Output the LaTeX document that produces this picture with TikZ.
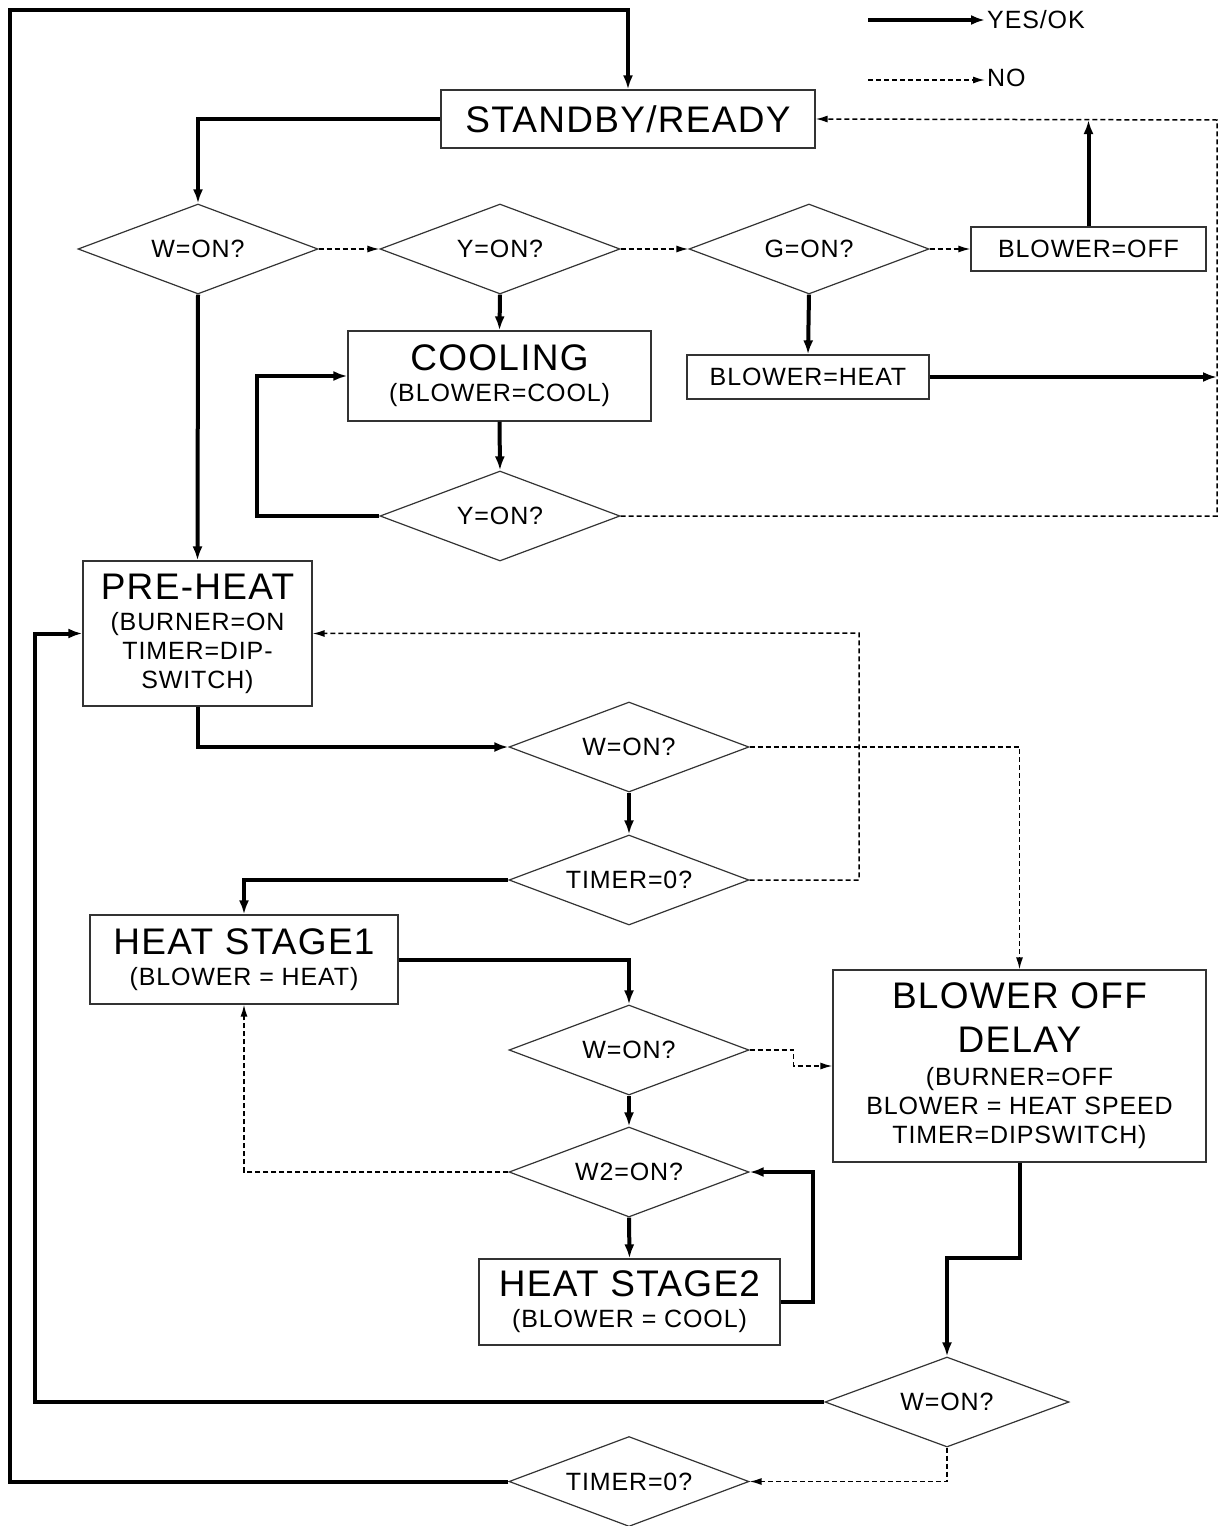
\documentclass[tikz,border=0pt]{standalone}
\usepackage{fontspec}
\setmainfont{Liberation Sans}[LetterSpace=3.5]
\usetikzlibrary{shapes.geometric,arrows.meta}
\newcommand\hdfont{\fontsize{37}{40}\selectfont}
\newcommand\smfont{\fontsize{25}{29}\selectfont}

\begin{document}
\begin{tikzpicture}[x=1pt,y=-1pt]
	\useasboundingbox (0,0) rectangle (1219,1526);
	\tikzstyle{every node}=[font=\smfont];
	\tikzstyle{state}=[draw=black!80,line width=1.2pt,shape=rectangle,inner sep=0pt,align=center];
	\tikzstyle{test}=[draw=black!80,line width=1.2pt,shape=diamond,aspect=2.667,inner sep=0pt,minimum width=240pt,minimum height=90pt];
	\tikzstyle{yes}=[line width=4pt,-{Latex[length=14pt,width=10pt]}];
	\tikzstyle{no}=[line width=1.5pt,dash pattern=on 5pt off 3pt,-{Latex[length=12pt,width=7pt]}];

	% legend
	\node[anchor=west,inner sep=2pt] (lyes) at (985,20) {YES/OK};
	\node[anchor=west,inner sep=2pt] (lno)  at (985,78) {NO};
	\coordinate (lys) at (868,20);
	\coordinate (lns) at (868,80);
	\path[yes,draw] (lys) -- (lyes.west);
	\path[no,draw]  (lns) -- (lno.west |- lns);

	% states
	\node[state,minimum width=374pt,minimum height=58pt] (sb) at (628,119) {\hdfont STANDBY/READY};
	\node[state,minimum width=235pt,minimum height=44pt] (boff) at (1088.5,249) {BLOWER=OFF};
	\node[state,minimum width=242pt,minimum height=44pt] (bheat) at (808,377) {BLOWER=HEAT};
	\node[state,minimum width=303pt,minimum height=90pt] (cool) at (499.5,376) {\hdfont COOLING\\[2pt]\smfont (BLOWER=COOL)};
	\node[state,minimum width=229pt,minimum height=145pt] (pre) at (197.5,633.5) {\hdfont PRE-HEAT\\[2pt]\smfont (BURNER=ON\\TIMER=DIP-\\SWITCH)};
	\node[state,minimum width=308pt,minimum height=89pt] (hs1) at (244,959.5) {\hdfont HEAT STAGE1\\[2pt]\smfont (BLOWER = HEAT)};
	\node[state,minimum width=301pt,minimum height=86pt] (hs2) at (629.5,1302) {\hdfont HEAT STAGE2\\[2pt]\smfont (BLOWER = COOL)};
	\node[state,minimum width=373pt,minimum height=192pt] (bod) at (1019.5,1066) {\hdfont BLOWER OFF\\[15pt]\hdfont DELAY\\[4pt]\smfont (BURNER=OFF\\BLOWER = HEAT SPEED\\TIMER=DIPSWITCH)};

	% tests
	\node[test] (w1) at (198,249) {W=ON?};
	\node[test] (y1) at (500,249) {Y=ON?};
	\node[test] (g1) at (809,249) {G=ON?};
	\node[test] (y2) at (500,516) {Y=ON?};
	\node[test] (w3) at (629,747) {W=ON?};
	\node[test] (t1) at (629,880) {TIMER=0?};
	\node[test] (w4) at (629,1050) {W=ON?};
	\node[test] (w2) at (629,1172) {W2=ON?};
	\node[test,minimum width=244pt] (w5) at (947,1402) {W=ON?};
	\node[test] (t2) at (629,1481.5) {TIMER=0?};

	% corner points
	\coordinate (rr) at (1217,120);
	\coordinate (cl) at (257,376);
	\coordinate (tr) at (859,633);
	\coordinate (ll) at (35,1402);
	\coordinate (bl) at (10,1481.5);
	\coordinate (tl) at (10,10);

	% yes / ok
	\path[yes,draw] (sb.west) -| (w1.north);
	\path[yes,draw] (boff.north) -- (boff.north |- rr);
	\path[yes,draw] (bheat.east) -- (bheat.east -| rr);
	\path[yes,draw] (y1.south) -- (cool.north);
	\path[yes,draw] (cool.south) -- (y2.north);
	\path[yes,draw] (y2.west) -| (cl) -- (cool.west);
	\path[yes,draw] (g1.south) -- (bheat.north);
	\path[yes,draw] (w1.south) -- (pre.north);
	\path[yes,draw] (pre.south) |- (w3.west);
	\path[yes,draw] (w3.south) -- (t1.north);
	\path[yes,draw] (t1.west) -| (hs1.north);
	\path[yes,draw] (hs1.east) -| (w4.north);
	\path[yes,draw] (w4.south) -- (w2.north);
	\path[yes,draw] (w2.south) -- (hs2.north);
	\path[yes,draw] (hs2.east) -- ++(32,0) |- (w2.east);
	\path[yes,draw] (bod.south) -- ++(0,95) -| (w5.north);
	\path[yes,draw] (w5.west) -- (ll) |- (pre.west);
	\path[yes,draw] (t2.west) -- (bl) -- (tl) -| (sb.north);

	% no
	\path[no,draw] (w1.east) -- (y1.west);
	\path[no,draw] (y1.east) -- (g1.west);
	\path[no,draw] (g1.east) -- (boff.west);
	\path[no,draw] (y2.east) -| (rr) -- (sb.east);
	\path[no,draw] (w3.east) -| (bod.north);
	\path[no,draw] (t1.east) -| (tr) -- (pre.east);
	\path[no,draw] (w4.east) -- ++(44,0) |- (bod.west);
	\path[no,draw] (w2.west) -| (hs1.south);
	\path[no,draw] (w5.south) |- (t2.east);
\end{tikzpicture}
\end{document}
